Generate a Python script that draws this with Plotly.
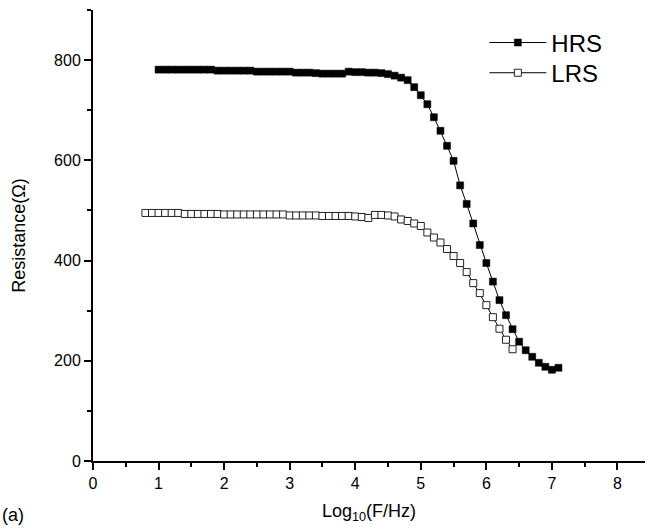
import plotly.graph_objects as go

# ---- data ----
hrs_x = [round(1.0 + 0.1 * i, 1) for i in range(62)]  # 1.0 .. 7.1
hrs_y = [781, 781, 781, 781, 781, 781, 781, 781, 781,
         779, 779, 779, 779, 779, 779,
         777, 777, 777, 777, 777, 777,
         775, 775, 775, 774, 773, 773, 773, 773,
         777, 776, 776, 775, 775, 774,
         772, 769, 765, 760, 746, 730, 712, 686, 659, 629, 599,
         550, 513, 474, 431, 395, 358, 321, 291, 263, 238, 221,
         208, 196, 188, 182, 186]

lrs_x = [round(0.8 + 0.1 * i, 1) for i in range(58)]  # 0.8 .. 6.5
lrs_y = [495, 495, 495, 495, 495, 495,
         493, 493, 493, 493, 493, 493,
         492, 492, 492, 492, 492, 492, 492, 492, 492, 492,
         490, 490, 490, 490, 490,
         489, 489, 489, 489, 489,
         488, 487, 485,
         491, 491, 490, 488, 482, 479, 474, 469, 456, 446, 436, 423,
         409, 395, 377, 355, 335, 311, 287, 264, 242, 223]

x_ticks = [0, 1, 2, 3, 4, 5, 6, 7, 8]
y_ticks = [0, 200, 400, 600, 800]

FONT = "Liberation Sans, Arial, sans-serif"

fig = go.Figure()
fig.add_trace(go.Scatter(
    x=hrs_x, y=hrs_y, mode="lines+markers", name="HRS", legend="legend",
    line=dict(color="black", width=1),
    marker=dict(symbol="square", size=7, color="black",
                line=dict(color="black", width=0.5)),
))
fig.add_trace(go.Scatter(
    x=lrs_x, y=lrs_y, mode="lines+markers", name="LRS", legend="legend2",
    line=dict(color="black", width=1),
    marker=dict(symbol="square", size=7, color="white",
                line=dict(color="#222", width=1)),
))

axis_common = dict(
    showline=True, linecolor="black", linewidth=2,
    ticks="outside", ticklen=7, tickwidth=2, tickcolor="black",
    showgrid=False, zeroline=False, mirror=False,
    tickfont=dict(family=FONT, size=16, color="black"),
)

fig.update_xaxes(
    range=[0, 8.42], tickvals=x_ticks, ticktext=[str(v) for v in x_ticks],
    minor=dict(dtick=0.5, ticks="outside", ticklen=4, tickwidth=2, tickcolor="black"),
    title=dict(text="Log<sub>10</sub>(F/Hz)", font=dict(family=FONT, size=18, color="black"),
               standoff=13),
    **axis_common,
)
fig.update_yaxes(
    range=[0, 900], tickvals=y_ticks, ticktext=[str(v) for v in y_ticks],
    minor=dict(dtick=100, ticks="outside", ticklen=4, tickwidth=2, tickcolor="black"),
    title=dict(text="Resistance(Ω)", font=dict(family=FONT, size=18, color="black"),
               standoff=24),
    **axis_common,
)

fig.add_annotation(
    text="(a)", xref="paper", yref="paper", x=-0.168, y=-0.12,
    xanchor="left", yanchor="middle", showarrow=False,
    font=dict(family=FONT, size=18, color="black"),
)

legend_style = dict(
    xanchor="left", yanchor="middle",
    bgcolor="rgba(0,0,0,0)", borderwidth=0,
    font=dict(family=FONT, size=24, color="black"),
    itemwidth=57,
)

fig.update_layout(
    width=648, height=530,
    margin=dict(l=93, r=3, t=10, b=69),
    paper_bgcolor="white", plot_bgcolor="white",
    font=dict(family=FONT, color="black"),
    showlegend=True,
    legend=dict(x=0.709, y=0.927, **legend_style),
    legend2=dict(x=0.709, y=0.860, **legend_style),
)

fig.write_html("out.html")
